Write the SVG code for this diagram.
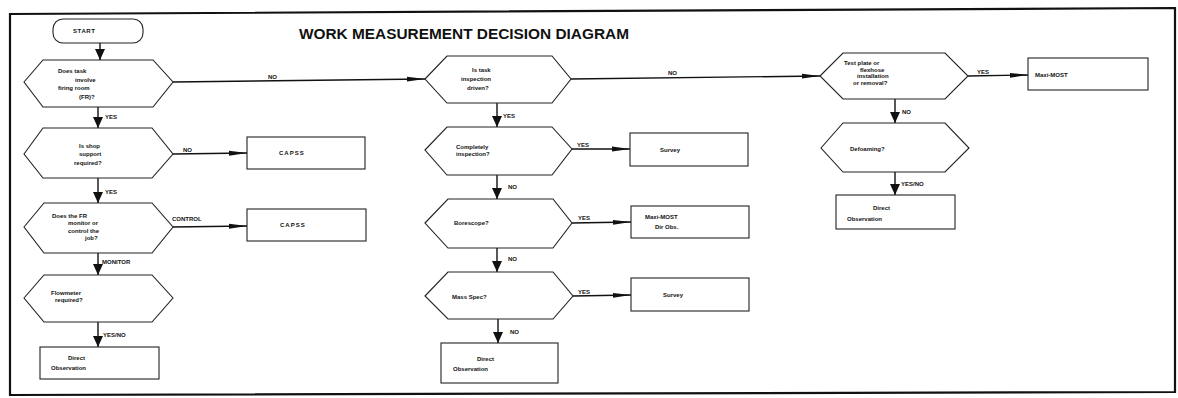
<svg xmlns="http://www.w3.org/2000/svg" width="1178" height="398" viewBox="0 0 1178 398">
<style>
.frame{fill:none;stroke:#111;stroke-width:2.2}
.sh{fill:#fff;stroke:#222;stroke-width:1.1}
.ln{fill:none;stroke:#111;stroke-width:1.4}
.t{font-family:"Liberation Sans",Arial,sans-serif;font-size:6px;font-weight:bold;fill:#111}
.lb{font-family:"Liberation Sans",Arial,sans-serif;font-size:6px;font-weight:bold;fill:#111}
.title{font-family:"Liberation Sans",Arial,sans-serif;font-size:14px;font-weight:bold;fill:#111}
</style>
<defs>
<marker id="mh" viewBox="0 0 18 6" markerWidth="18" markerHeight="6" refX="18" refY="3" orient="auto" markerUnits="userSpaceOnUse"><path d="M0,0.6 L18,3 L0,5.4 z" fill="#111"/></marker>
<marker id="mv" viewBox="0 0 11 10" markerWidth="11" markerHeight="10" refX="11" refY="5" orient="auto" markerUnits="userSpaceOnUse"><path d="M0,0 L11,5 L0,10 z" fill="#111"/></marker>
</defs>
<rect width="1178" height="398" fill="#fff"/>
<polygon class="frame" points="10,14 1175,8 1175,392 10,395"/>
<text class="title" x="299" y="39" textLength="330" lengthAdjust="spacingAndGlyphs">WORK MEASUREMENT DECISION DIAGRAM</text>

<g id="connectors">
<line class="ln" x1="100" y1="43" x2="100" y2="60" marker-end="url(#mv)"/>
<line class="ln" x1="98" y1="107" x2="98" y2="128" marker-end="url(#mv)"/>
<line class="ln" x1="173" y1="82" x2="425" y2="79" marker-end="url(#mh)"/>
<line class="ln" x1="173" y1="154" x2="247" y2="153" marker-end="url(#mh)"/>
<line class="ln" x1="98" y1="178" x2="98" y2="203" marker-end="url(#mv)"/>
<line class="ln" x1="173" y1="227" x2="247" y2="226" marker-end="url(#mh)"/>
<line class="ln" x1="98" y1="253" x2="98" y2="275" marker-end="url(#mv)"/>
<line class="ln" x1="98" y1="322" x2="98" y2="347" marker-end="url(#mv)"/>
<line class="ln" x1="571" y1="79" x2="820" y2="76" marker-end="url(#mh)"/>
<line class="ln" x1="497" y1="103" x2="497" y2="127" marker-end="url(#mv)"/>
<line class="ln" x1="572" y1="149" x2="630" y2="149" marker-end="url(#mh)"/>
<line class="ln" x1="497" y1="175" x2="497" y2="199" marker-end="url(#mv)"/>
<line class="ln" x1="572" y1="223" x2="631" y2="222" marker-end="url(#mh)"/>
<line class="ln" x1="497" y1="248" x2="497" y2="272" marker-end="url(#mv)"/>
<line class="ln" x1="573" y1="296" x2="631" y2="295" marker-end="url(#mh)"/>
<line class="ln" x1="498" y1="319" x2="498" y2="343" marker-end="url(#mv)"/>
<line class="ln" x1="968" y1="76" x2="1028" y2="75" marker-end="url(#mh)"/>
<line class="ln" x1="895" y1="99" x2="895" y2="123" marker-end="url(#mv)"/>
<line class="ln" x1="895" y1="172" x2="895" y2="195" marker-end="url(#mv)"/>
<text class="lb" x="268" y="79">NO</text>
<text class="lb" x="105" y="119">YES</text>
<text class="lb" x="183" y="152">NO</text>
<text class="lb" x="105" y="194">YES</text>
<text class="lb" x="172" y="221">CONTROL</text>
<text class="lb" x="102" y="264">MONITOR</text>
<text class="lb" x="103" y="337">YES/NO</text>
<text class="lb" x="668" y="75">NO</text>
<text class="lb" x="503" y="118">YES</text>
<text class="lb" x="577" y="147">YES</text>
<text class="lb" x="508" y="189">NO</text>
<text class="lb" x="578" y="220">YES</text>
<text class="lb" x="508" y="261">NO</text>
<text class="lb" x="578" y="294">YES</text>
<text class="lb" x="510" y="334">NO</text>
<text class="lb" x="977" y="74">YES</text>
<text class="lb" x="902" y="114">NO</text>
<text class="lb" x="901" y="186">YES/NO</text>
</g>

<g id="start">
<rect class="sh" x="53" y="19" width="90" height="24" rx="10"/>
<text class="t" x="73" y="33" letter-spacing="0.6">START</text>
</g>
<g id="q-firing-room">
<polygon class="sh" points="24,82 43,60 153,60 173,82 153,107 43,107"/>
<text class="t" x="58" y="73">Does task</text>
<text class="t" x="75" y="82">involve</text>
<text class="t" x="58" y="90">firing room</text>
<text class="t" x="79" y="99">(FR)?</text>
</g>
<g id="q-shop-support">
<polygon class="sh" points="24,154 43,128 152,128 173,154 152,178 43,178"/>
<text class="t" x="79" y="148">Is shop</text>
<text class="t" x="79" y="156">support</text>
<text class="t" x="74" y="165">required?</text>
</g>
<g id="capss-1">
<rect class="sh" x="247" y="137" width="118" height="32"/>
<text class="t" x="279" y="155" letter-spacing="1">CAPSS</text>
</g>
<g id="q-monitor-control">
<polygon class="sh" points="24,227 44,203 152,203 173,227 152,253 44,253"/>
<text class="t" x="52" y="218">Does the FR</text>
<text class="t" x="68" y="225">monitor or</text>
<text class="t" x="68" y="233">control the</text>
<text class="t" x="85" y="240">job?</text>
</g>
<g id="capss-2">
<rect class="sh" x="247" y="209" width="119" height="32"/>
<text class="t" x="280" y="227" letter-spacing="1">CAPSS</text>
</g>
<g id="q-flowmeter">
<polygon class="sh" points="24,298 44,275 152,275 173,298 152,322 44,322"/>
<text class="t" x="51" y="295">Flowmeter</text>
<text class="t" x="55" y="302">required?</text>
</g>
<g id="direct-obs-1">
<rect class="sh" x="40" y="347" width="119" height="32"/>
<text class="t" x="68" y="360">Direct</text>
<text class="t" x="51" y="370">Observation</text>
</g>

<g id="q-inspection-driven">
<polygon class="sh" points="425,79 447,56 552,56 571,79 552,103 447,103"/>
<text class="t" x="472" y="72">Is task</text>
<text class="t" x="461" y="81">inspection</text>
<text class="t" x="467" y="90">driven?</text>
</g>
<g id="q-completely">
<polygon class="sh" points="425,150 447,127 552,127 572,149 552,175 447,175"/>
<text class="t" x="456" y="149">Completely</text>
<text class="t" x="456" y="156">inspection?</text>
</g>
<g id="survey-1">
<rect class="sh" x="630" y="133" width="118" height="33"/>
<text class="t" x="660" y="152">Survey</text>
</g>
<g id="q-borescope">
<polygon class="sh" points="425,223 448,199 553,199 572,223 553,248 448,248"/>
<text class="t" x="454" y="225">Borescope?</text>
</g>
<g id="maxi-most-dirobs">
<rect class="sh" x="631" y="206" width="118" height="32"/>
<text class="t" x="645" y="219">Maxi-MOST</text>
<text class="t" x="655" y="229">Dir Obs.</text>
</g>
<g id="q-mass-spec">
<polygon class="sh" points="425,296 448,272 553,272 573,296 553,319 448,319"/>
<text class="t" x="452" y="299">Mass Spec?</text>
</g>
<g id="survey-2">
<rect class="sh" x="631" y="278" width="118" height="33"/>
<text class="t" x="663" y="297">Survey</text>
</g>
<g id="direct-obs-2">
<rect class="sh" x="441" y="343" width="117" height="40"/>
<text class="t" x="477" y="361">Direct</text>
<text class="t" x="453" y="371">Observation</text>
</g>

<g id="q-test-plate">
<polygon class="sh" points="820,76 843,53 945,53 968,76 945,99 843,99"/>
<text class="t" x="844" y="65">Test plate or</text>
<text class="t" x="860" y="72">flexhose</text>
<text class="t" x="857" y="78">installation</text>
<text class="t" x="853" y="85">or removal?</text>
</g>
<g id="maxi-most">
<rect class="sh" x="1028" y="58" width="120" height="32"/>
<text class="t" x="1035" y="77">Maxi-MOST</text>
</g>
<g id="q-defoaming">
<polygon class="sh" points="821,148 843,123 945,123 969,148 945,172 843,172"/>
<text class="t" x="850" y="151">Defoaming?</text>
</g>
<g id="direct-obs-3">
<rect class="sh" x="836" y="195" width="119" height="34"/>
<text class="t" x="873" y="210">Direct</text>
<text class="t" x="847" y="221">Observation</text>
</g>
</svg>
